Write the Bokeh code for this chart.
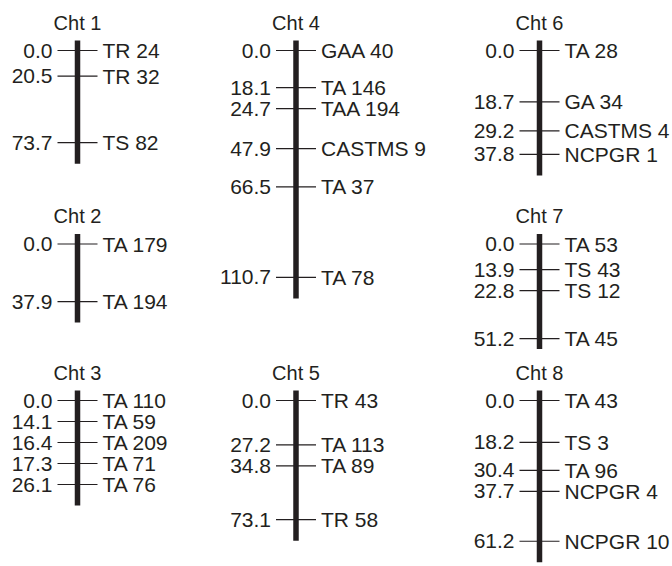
from bokeh.plotting import figure
from bokeh.layouts import row, column
from bokeh.models import Range1d, ColumnDataSource
from bokeh.core.properties import value
from bokeh.embed import file_html
from bokeh.resources import INLINE

# ---------------- data (positions in cM, marker names) ----------------
chromosome_names = ["Cht 1", "Cht 2", "Cht 3", "Cht 4", "Cht 5", "Cht 6", "Cht 7", "Cht 8"]

cht1_cm = [0.0, 20.5, 73.7]
cht1_markers = ["TR 24", "TR 32", "TS 82"]

cht2_cm = [0.0, 37.9]
cht2_markers = ["TA 179", "TA 194"]

cht3_cm = [0.0, 14.1, 16.4, 17.3, 26.1]
cht3_markers = ["TA 110", "TA 59", "TA 209", "TA 71", "TA 76"]

cht4_cm = [0.0, 18.1, 24.7, 47.9, 66.5, 110.7]
cht4_markers = ["GAA 40", "TA 146", "TAA 194", "CASTMS 9", "TA 37", "TA 78"]

cht5_cm = [0.0, 27.2, 34.8, 73.1]
cht5_markers = ["TR 43", "TA 113", "TA 89", "TR 58"]

cht6_cm = [0.0, 18.7, 29.2, 37.8]
cht6_markers = ["TA 28", "GA 34", "CASTMS 4", "NCPGR 1"]

cht7_cm = [0.0, 13.9, 22.8, 51.2]
cht7_markers = ["TA 53", "TS 43", "TS 12", "TA 45"]

cht8_cm = [0.0, 18.2, 30.4, 37.7, 61.2]
cht8_markers = ["TA 43", "TS 3", "TA 96", "NCPGR 4", "NCPGR 10"]

# ---------------- layout / style ----------------
FONT = value("Liberation Sans")
INK = "#231f20"
LABEL_SIZE = "21px"
TITLE_SIZE = "20px"
MIN_GAP_PX = 21      # minimum label spacing (px)
BAR_W = 5.5
TICK_HALF = 20
LABEL_OFF = 25


def spread(cm, gap):
    out = []
    for v in cm:
        if out and v < out[-1] + gap:
            out.append(out[-1] + gap)
        else:
            out.append(v)
    return out


def panel(name, cm, markers, width, height, bar_x, top_off, scale):
    disp = spread(cm, MIN_GAP_PX / scale)
    y_top = -top_off / scale
    y_bot = (height - top_off) / scale
    p = figure(width=width, height=height,
               x_range=Range1d(0, width), y_range=Range1d(y_bot, y_top),
               x_axis_type=None, y_axis_type=None,
               toolbar_location=None, output_backend="svg",
               min_border=0, outline_line_color=None,
               background_fill_color="white", border_fill_color="white")
    p.grid.visible = False
    src = ColumnDataSource(dict(
        y=disp,
        left=["%.1f" % v for v in cm],
        right=markers,
    ))
    p.vbar(x=bar_x, bottom=-10 / scale, top=disp[-1] + 21 / scale,
           width=BAR_W, fill_color=INK, line_color=None)
    p.segment(x0=bar_x - TICK_HALF, x1=bar_x + TICK_HALF, y0="y", y1="y",
              source=src, line_color=INK, line_width=1.2)
    p.text(x=bar_x - LABEL_OFF, y="y", text="left", source=src,
           text_align="right", text_baseline="middle",
           text_font=FONT, text_font_size=LABEL_SIZE, text_color=INK)
    p.text(x=bar_x + LABEL_OFF, y="y", text="right", source=src,
           text_align="left", text_baseline="middle",
           text_font=FONT, text_font_size=LABEL_SIZE, text_color=INK)
    p.text(x=[bar_x], y=[-28 / scale], text=[name],
           text_align="center", text_baseline="middle",
           text_font=FONT, text_font_size=TITLE_SIZE, text_color=INK)
    return p


COL_W = [200, 250, 222]
BAR_X = [77, 95.5, 89]
H_A, H_B, H_C = 194, 155, 217
T_A, T_B, T_C = 50, 49.5, 51

p1 = panel(chromosome_names[0], cht1_cm, cht1_markers, COL_W[0], H_A, BAR_X[0], T_A, 1.25)
p2 = panel(chromosome_names[1], cht2_cm, cht2_markers, COL_W[0], H_B, BAR_X[0], T_B, 1.52)
p3 = panel(chromosome_names[2], cht3_cm, cht3_markers, COL_W[0], H_C, BAR_X[0], T_C, 1.42)
p4 = panel(chromosome_names[3], cht4_cm, cht4_markers, COL_W[1], H_A + H_B, BAR_X[1], T_A, 2.05)
p5 = panel(chromosome_names[4], cht5_cm, cht5_markers, COL_W[1], H_C, BAR_X[1], T_C, 1.63)
p6 = panel(chromosome_names[5], cht6_cm, cht6_markers, COL_W[2], H_A, BAR_X[2], T_A, 2.75)
p7 = panel(chromosome_names[6], cht7_cm, cht7_markers, COL_W[2], H_B, BAR_X[2], T_B, 1.85)
p8 = panel(chromosome_names[7], cht8_cm, cht8_markers, COL_W[2], H_C, BAR_X[2], T_C, 2.3)

layout = row(column(p1, p2, p3), column(p4, p5), column(p6, p7, p8))

open("out.html", "w").write(file_html(layout, INLINE))
